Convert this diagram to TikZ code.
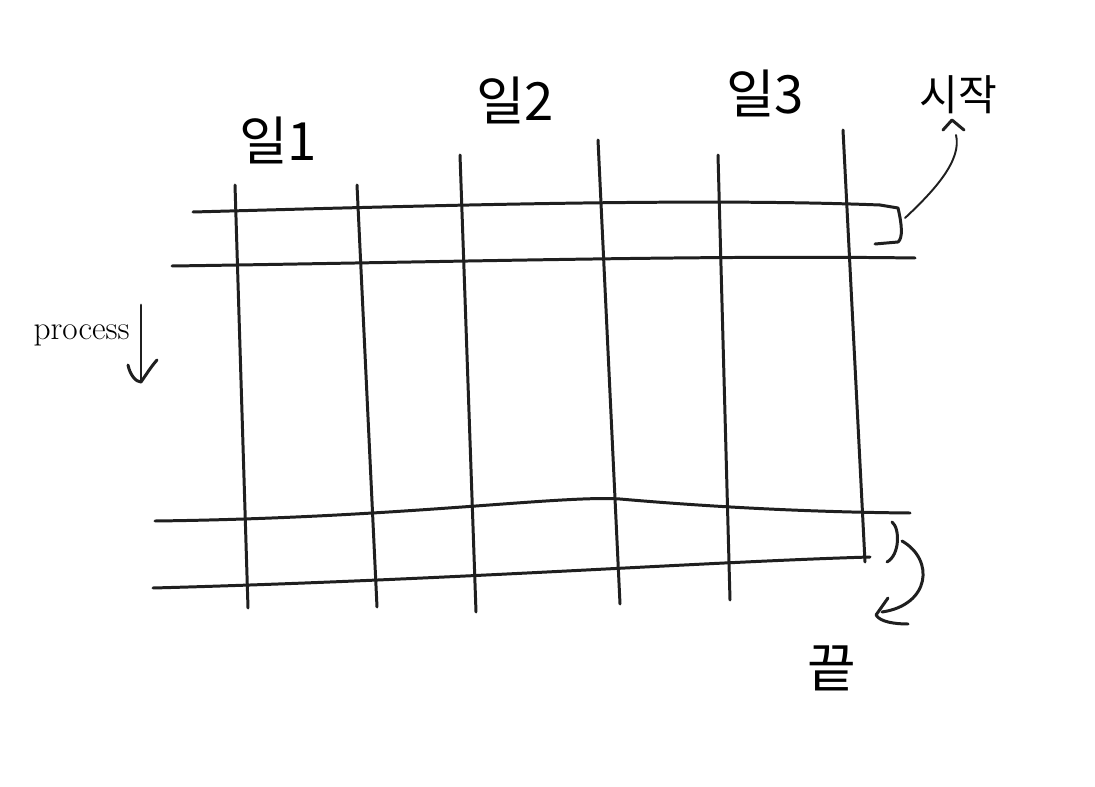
\documentclass[tikz,border=0pt]{standalone}
\usepackage{fontspec}
\newfontfamily\kr{Noto Sans CJK KR}
\usetikzlibrary{arrows.meta}
\begin{document}
\begin{tikzpicture}[x=0.02cm,y=-0.02cm,
  pen/.style={line width=1.7pt,line cap=round,line join=round,black!88},
  lbl/.style={font=\kr\fontsize{30}{30}\selectfont,inner sep=0pt},
  small/.style={font=\kr\fontsize{24}{24}\selectfont,inner sep=0pt}]
\useasboundingbox[fill=white] (0,0) rectangle (1095,787);
% vertical lines
\coordinate (v1t) at (235,185); \coordinate (v1b) at (248,608);
\coordinate (v2t) at (357,185); \coordinate (v2b) at (377,607);
\coordinate (v3t) at (460,155); \coordinate (v3b) at (476,612);
\coordinate (v4t) at (598,140); \coordinate (v4b) at (620,604);
\coordinate (v5t) at (718,155); \coordinate (v5b) at (730,600);
\coordinate (v6t) at (843,130); \coordinate (v6b) at (865,562);
\foreach \i in {1,...,6} \draw[pen] (v\i t) -- (v\i b);
% horizontal lines
\coordinate (h1l) at (193,212); \coordinate (h1r) at (880,205);
\coordinate (h2l) at (172,266); \coordinate (h2r) at (915,258);
\coordinate (h3l) at (155,521); \coordinate (h3r) at (910,513);
\coordinate (h4l) at (153,588); \coordinate (h4r) at (870,557);
\draw[pen] (h1l) .. controls (450,205) and (700,198) .. (h1r);
\draw[pen] (h2l) .. controls (450,262) and (700,255) .. (h2r);
\draw[pen] (h3l) .. controls (400,518) and (560,495) .. (620,499) .. controls (700,506) and (800,512) .. (h3r);
\draw[pen] (h4l) .. controls (450,580) and (700,562) .. (h4r);
% top bracket and arrow to start
\draw[pen] (h1r) -- (898,208) .. controls (902,225) and (903,238) .. (898,242) -- (875,244);
\coordinate (a1s) at (905,218);
\coordinate (a1e) at (956,135);
\draw[pen,line width=1.1pt] (a1s) .. controls (935,190) and (962,160) .. (a1e);
\draw[pen] (943,130) -- (952,120) -- (964,130);
\node[small,anchor=center] (start) at (958,95) {시작};
% bottom bracket and arrow to end
\draw[pen] (892,522) .. controls (900,528) and (900,555) .. (887,562);
\coordinate (a2s) at (902,541);
\coordinate (a2e) at (882,612);
\draw[pen] (a2s) .. controls (935,560) and (930,605) .. (a2e);
\draw[pen] (888,598) -- (876,615) .. controls (880,622) and (895,624) .. (908,624);
\node[lbl,anchor=center] (end) at (832,668) {끝};
% column labels
\node[lbl,anchor=center] (w1) at (278,140) {일1};
\node[lbl,anchor=center] (w2) at (515,100) {일2};
\node[lbl,anchor=center] (w3) at (765,93) {일3};
% process
\node[font=\fontsize{19}{19}\selectfont,inner sep=0pt,anchor=east] (proc) at (130,335) {process};
\coordinate (pa1) at (141,305); \coordinate (pa2) at (141,382);
\draw[pen] (pa1) -- (pa2);
\draw[pen] (128,365) .. controls (130,375) and (136,382) .. (141,382) .. controls (146,375) and (150,368) .. (157,360);
\end{tikzpicture}
\end{document}
